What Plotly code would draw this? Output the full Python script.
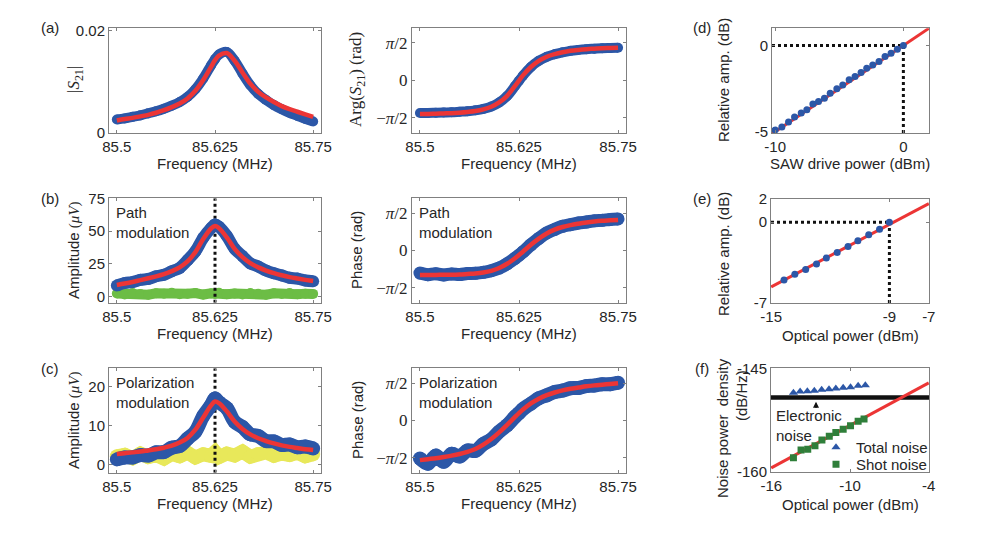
import plotly.graph_objects as go

W, H = 981, 533
OX, OY = 8, 8  # page body margin of the html file
SANS = "Liberation Sans, Arial, sans-serif"
SERIF = "Liberation Serif, DejaVu Serif, serif"
TXT = "#262626"
AXIS = "#808080"
BLUE = "#2c57a7"
RED = "#ec3535"
GREEN_BG = "#6cbd45"
YELLOW_BG = "#e8e85a"
SHOT_GREEN = "#2f7f3a"

# ---- data -------------------------------------------------------------
freq = [85.50, 85.51, 85.52, 85.53, 85.54, 85.55, 85.56, 85.57, 85.58, 85.59,
        85.60, 85.61, 85.62, 85.625, 85.63, 85.64, 85.65, 85.66, 85.67, 85.68,
        85.69, 85.70, 85.71, 85.72, 85.73, 85.74, 85.75]
f_marker = 85.625

# (a) S21
s21_meas = [0.0026, 0.0028, 0.0031, 0.0034, 0.0038, 0.0042, 0.0047, 0.0053, 0.0060, 0.0070,
            0.0085, 0.0106, 0.0132, 0.0144, 0.0153, 0.0158, 0.0141, 0.0116, 0.0093, 0.0076,
            0.0064, 0.0054, 0.0046, 0.0039, 0.0033, 0.0027, 0.0022]
s21_fit = [0.0024, 0.0027, 0.0029, 0.0032, 0.0035, 0.0039, 0.0044, 0.0050, 0.0057, 0.0067,
           0.0082, 0.0103, 0.0129, 0.0142, 0.0151, 0.0156, 0.0141, 0.0118, 0.0096, 0.0080,
           0.0069, 0.0060, 0.0052, 0.0046, 0.0041, 0.0036, 0.0031]
arg_meas = [-1.37, -1.37, -1.36, -1.35, -1.34, -1.32, -1.30, -1.26, -1.20, -1.10,
            -0.93, -0.66, -0.24, -0.02, 0.20, 0.56, 0.82, 0.99, 1.10, 1.18,
            1.24, 1.28, 1.31, 1.33, 1.35, 1.36, 1.37]
arg_fit = [-1.41, -1.41, -1.40, -1.39, -1.38, -1.36, -1.33, -1.29, -1.22, -1.11,
           -0.93, -0.65, -0.23, -0.01, 0.21, 0.56, 0.82, 0.99, 1.10, 1.18,
           1.24, 1.28, 1.31, 1.33, 1.35, 1.36, 1.37]

# (b) path modulation
path_amp = [8.6, 10.5, 11.2, 12.9, 13.6, 15.6, 16.8, 19.5, 22.0, 27.9,
            34.6, 44.9, 52.3, 55.0, 53.4, 46.4, 36.6, 31.0, 25.4, 23.1,
            20.0, 17.9, 16.3, 14.5, 13.9, 12.4, 11.9]
path_amp_fit = [9.0, 10.1, 11.3, 12.7, 14.1, 15.6, 17.3, 19.5, 22.4, 26.9,
                34.0, 44.0, 52.0, 54.0, 52.3, 45.3, 36.5, 30.2, 25.6, 22.4,
                20.0, 18.0, 16.4, 15.0, 13.9, 12.9, 12.0]
path_bg = [2.5, 1.8, 2.9, 2.1, 1.6, 2.7, 2.3, 3.0, 1.9, 2.4,
           2.8, 1.7, 2.6, 2.2, 3.1, 2.0, 2.5, 1.8, 2.9, 2.3,
           1.6, 2.7, 2.1, 2.8, 1.9, 2.4, 2.2]
path_phase = [-0.95, -1.02, -0.98, -1.03, -0.99, -1.01, -0.97, -0.96, -0.92, -0.85,
              -0.74, -0.56, -0.33, -0.20, -0.06, 0.24, 0.51, 0.74, 0.89, 1.02,
              1.09, 1.16, 1.20, 1.25, 1.27, 1.31, 1.33]
path_phase_fit = [-1.03, -1.03, -1.03, -1.02, -1.02, -1.01, -0.99, -0.97, -0.93, -0.86,
                  -0.74, -0.56, -0.33, -0.19, -0.05, 0.24, 0.50, 0.72, 0.88, 0.99,
                  1.07, 1.13, 1.18, 1.22, 1.25, 1.27, 1.29]

# (c) polarization modulation
pol_amp = [1.4, 1.9, 1.9, 2.5, 2.4, 3.2, 3.3, 4.4, 4.8, 6.7,
           8.5, 12.5, 15.3, 17.0, 16.0, 14.5, 11.0, 9.7, 7.8, 7.4,
           6.1, 6.0, 5.1, 5.2, 4.5, 4.7, 4.2]
pol_amp_fit = [2.8, 3.0, 3.2, 3.4, 3.7, 4.0, 4.4, 4.9, 5.7, 6.9,
               9.0, 12.1, 15.2, 16.2, 15.8, 13.7, 11.1, 9.2, 7.8, 6.8,
               6.1, 5.5, 5.0, 4.6, 4.3, 4.0, 3.8]
pol_bg = [2.2, 2.6, 1.7, 2.9, 2.0, 2.5, 1.6, 2.8, 2.2, 3.1,
          1.9, 2.7, 2.3, 3.3, 2.0, 2.9, 2.4, 3.4, 2.1, 2.8,
          3.2, 2.3, 2.9, 2.5, 3.1, 2.2, 2.7]
pol_phase = [-1.60, -1.82, -1.48, -1.74, -1.40, -1.52, -1.26, -1.28, -0.99, -0.80,
             -0.47, -0.20, 0.16, 0.31, 0.48, 0.71, 0.94, 1.06, 1.20, 1.26,
             1.36, 1.37, 1.45, 1.47, 1.53, 1.53, 1.59]
pol_phase_fit = [-1.67, -1.63, -1.59, -1.54, -1.48, -1.41, -1.32, -1.20, -1.02, -0.78,
                 -0.50, -0.18, 0.15, 0.31, 0.46, 0.72, 0.92, 1.07, 1.18, 1.27,
                 1.34, 1.39, 1.44, 1.48, 1.51, 1.54, 1.57]

# (d) SAW drive power sweep
saw_power = [-10.0, -9.48, -8.96, -8.49, -7.97, -7.53, -7.06, -6.62, -6.16, -5.71, -5.19,
             -4.73, -4.23, -3.77, -3.30, -2.86, -2.39, -1.90, -1.43, -0.96, -0.47, 0.0]
saw_rel_amp = [-4.87, -4.71, -4.42, -4.13, -3.90, -3.71, -3.38, -3.23, -3.04, -2.75, -2.50,
               -2.27, -1.98, -1.79, -1.56, -1.31, -1.12, -0.92, -0.63, -0.44, -0.21, 0.0]
saw_fit_x = [-10.25, 2.0]
saw_fit_y = [-5.1, 1.0]
saw_ref = 0.0

# (e) optical power sweep
opt_power = [-14.35, -13.8, -13.25, -12.7, -12.2, -11.65, -11.1, -10.6, -10.05, -9.5, -9.0]
opt_rel_amp = [-5.01, -4.53, -4.10, -3.62, -3.11, -2.62, -2.11, -1.60, -1.08, -0.60, 0.0]
opt_fit_x = [-15.0, -7.0]
opt_fit_y = [-5.62, 1.62]
opt_ref = -9.0

# (f) noise
total_power = [-14.31, -13.8, -13.25, -12.72, -12.16, -11.6, -11.08, -10.52, -9.96, -9.38, -8.83]
total_noise = [-148.53, -148.34, -148.29, -148.24, -148.10, -148.0, -147.9, -147.8, -147.71, -147.52, -147.42]
shot_power = [-14.31, -13.73, -13.22, -12.67, -12.14, -11.58, -11.08, -10.52, -9.96, -9.38, -8.93]
shot_noise = [-157.97, -156.85, -156.71, -156.23, -155.40, -154.82, -154.29, -153.81, -153.32, -152.65, -152.35]
shot_fit_x = [-16.0, -4.0]
shot_fit_y = [-159.43, -147.09]
electronic_noise = -149.2


def px(p):
    return (p - OX) / W


def py(p):
    return 1 - (p - OY) / H


# plot boxes in screen pixels: left, right, top, bottom
boxes = {
    1: (109, 321, 28, 132.7),
    2: (412, 626, 28, 132.7),
    3: (109, 321, 198.3, 302.7),
    4: (412, 626, 198.3, 302.7),
    5: (109, 321, 368.3, 472.7),
    6: (412, 626, 368.3, 472.7),
    7: (772, 929, 28.3, 133),
    8: (771, 929, 199, 303),
    9: (771, 929, 368.3, 472),
}

F_RANGE = [85.49, 85.76]
F_TICKS = [85.5, 85.625, 85.75]
PH_RANGE = [-2.2, 2.2]
PH_TICKS = [-1.5708, 0, 1.5708]
PH_TEXT = ["\u2212<i>\u03c0</i>/2", "0", "<i>\u03c0</i>/2"]

axes_spec = {
    1: dict(xr=F_RANGE, xt=F_TICKS, yr=[0, 0.0205], yt=[0, 0.02], ytxt=["0", "0.02"]),
    2: dict(xr=F_RANGE, xt=F_TICKS, yr=PH_RANGE, yt=PH_TICKS, ytxt=PH_TEXT, serif=True),
    3: dict(xr=F_RANGE, xt=F_TICKS, yr=[-4.5, 75.01], yt=[0, 25, 50, 75]),
    4: dict(xr=F_RANGE, xt=F_TICKS, yr=PH_RANGE, yt=PH_TICKS, ytxt=PH_TEXT, serif=True),
    5: dict(xr=F_RANGE, xt=F_TICKS, yr=[-2, 24.7], yt=[0, 10, 20]),
    6: dict(xr=F_RANGE, xt=F_TICKS, yr=PH_RANGE, yt=PH_TICKS, ytxt=PH_TEXT, serif=True),
    7: dict(xr=[-10.25, 2.0], xt=[-10, 0], yr=[-5.05, 1.0], yt=[-5, 0]),
    8: dict(xr=[-15.01, -6.99], xt=[-15, -9, -7], yr=[-7.02, 2.02], yt=[-7, 0, 2]),
    9: dict(xr=[-16.02, -3.98], xt=[-16, -10, -4], yr=[-160.03, -144.97], yt=[-160, -145]),
}

fig = go.Figure()

for n, (l, r, t, b) in boxes.items():
    sp = axes_spec[n]
    common = dict(showline=True, linecolor=AXIS, linewidth=1, mirror="ticks",
                  ticks="inside", ticklen=3, tickcolor=AXIS, showgrid=False,
                  zeroline=False, automargin=False,
                  tickfont=dict(family=SANS, size=15, color=TXT))
    xa = dict(common, domain=[px(l), px(r)], anchor=f"y{n}", range=sp["xr"],
              tickmode="array", tickvals=sp["xt"], ticktext=[f"{v:g}" for v in sp["xt"]])
    ya = dict(common, domain=[py(b), py(t)], anchor=f"x{n}", range=sp["yr"],
              tickmode="array", tickvals=sp["yt"],
              ticktext=sp.get("ytxt", [f"{v:g}" for v in sp["yt"]]))
    if sp.get("serif"):
        ya["tickfont"] = dict(family=SERIF, size=17, color=TXT)
    key = "" if n == 1 else str(n)
    fig.update_layout(**{f"xaxis{key}": xa, f"yaxis{key}": ya})


def ax(n):
    return dict(xaxis=f"x{n}", yaxis=f"y{n}")


def band(n, x, y, color, width, shape="spline"):
    fig.add_trace(go.Scatter(x=x, y=y, mode="lines+markers", showlegend=False,
                             line=dict(color=color, width=width, shape=shape),
                             marker=dict(color=color, size=width), hoverinfo="skip", **ax(n)))


def fit(n, x, y, width=4.5, color=RED, shape="spline", dash=None):
    fig.add_trace(go.Scatter(x=x, y=y, mode="lines", showlegend=False,
                             line=dict(color=color, width=width, shape=shape, dash=dash),
                             hoverinfo="skip", **ax(n)))


def dotted(n, x, y):
    fit(n, x, y, width=3, color="#111111", shape="linear", dash="dot")


# (a)
band(1, freq, s21_meas, BLUE, 10)
fit(1, freq, s21_fit)
band(2, freq, arg_meas, BLUE, 10)
fit(2, freq, arg_fit)

# (b)
band(3, freq, path_bg, GREEN_BG, 10, shape="linear")
dotted(3, [f_marker, f_marker], axes_spec[3]["yr"])
band(3, freq, path_amp, BLUE, 12)
fit(3, freq, path_amp_fit)
band(4, freq, path_phase, BLUE, 13)
fit(4, freq, path_phase_fit)

# (c)
band(5, freq, pol_bg, YELLOW_BG, 14, shape="linear")
dotted(5, [f_marker, f_marker], axes_spec[5]["yr"])
band(5, freq, pol_amp, BLUE, 14)
fit(5, freq, pol_amp_fit)
band(6, freq, pol_phase, BLUE, 14)
fit(6, freq, pol_phase_fit)

# (d)
dotted(7, [axes_spec[7]["xr"][0], saw_ref], [0, 0])
dotted(7, [saw_ref, saw_ref], [axes_spec[7]["yr"][0], 0])
fit(7, saw_fit_x, saw_fit_y, width=3, shape="linear")
fig.add_trace(go.Scatter(x=saw_power, y=saw_rel_amp, mode="markers", showlegend=False,
                         marker=dict(color=BLUE, size=7), **ax(7)))

# (e)
dotted(8, [axes_spec[8]["xr"][0], opt_ref], [0, 0])
dotted(8, [opt_ref, opt_ref], [axes_spec[8]["yr"][0], 0])
fit(8, opt_fit_x, opt_fit_y, width=3, shape="linear")
fig.add_trace(go.Scatter(x=opt_power, y=opt_rel_amp, mode="markers", showlegend=False,
                         marker=dict(color=BLUE, size=7), **ax(8)))

# (f)
fit(9, axes_spec[9]["xr"], [electronic_noise, electronic_noise], width=4.5,
    color="#111111", shape="linear")
fit(9, shot_fit_x, shot_fit_y, width=3, shape="linear")
fig.add_trace(go.Scatter(x=total_power, y=total_noise, mode="markers", name="Total noise",
                         legend="legend",
                         marker=dict(color=BLUE, size=8, symbol="triangle-up"), **ax(9)))
fig.add_trace(go.Scatter(x=shot_power, y=shot_noise, mode="markers", name="Shot noise",
                         legend="legend2",
                         marker=dict(color=SHOT_GREEN, size=7, symbol="square"), **ax(9)))
fig.add_annotation(x=-12.59, y=-149.84, ax=-12.59, ay=-150.95, xref="x9", yref="y9",
                   axref="x9", ayref="y9", text="", showarrow=True, arrowhead=2,
                   arrowsize=1, arrowwidth=1.2, arrowcolor="#111111", standoff=0)


def label(text, x, y, size=15, angle=0, family=SANS, xanchor="center", yanchor="middle",
          align="center"):
    fig.add_annotation(text=text, x=px(x), y=py(y), xref="paper", yref="paper",
                       showarrow=False, textangle=angle, xanchor=xanchor, yanchor=yanchor,
                       align=align, font=dict(family=family, size=size, color=TXT))


# axis titles
for cx in (215, 519):
    for cy in (163, 333, 503):
        label("Frequency (MHz)", cx, cy)
label("|<i>S</i><sub>21</sub>|", 75, 80, size=17, angle=-90, family=SERIF)
label("Arg(<i>S</i><sub>21</sub>) (rad)", 357, 80, size=17, angle=-90, family=SERIF)
amp_title = ("Amplitude <span style='font-family:Liberation Serif'>(<i>\u03bcV</i>)</span>")
label(amp_title, 74, 250, angle=-90)
label(amp_title, 74, 420, angle=-90)
label("Phase (rad)", 357, 250, angle=-90)
label("Phase (rad)", 357, 420, angle=-90)
label("Relative amp. (dB)", 723, 80, angle=-90)
label("Relative amp. (dB)", 723, 254, angle=-90)
label("Noise power  density", 722, 428, angle=-90)
label("(dB/Hz)", 741, 396, angle=-90)
label("SAW drive power (dBm)", 850, 163)
label("Optical power (dBm)", 850, 335)
label("Optical power (dBm)", 850, 504)

# in-panel notes
label("Path<br>modulation", 114, 202, xanchor="left", yanchor="top", align="left")
label("Path<br>modulation", 417, 202, xanchor="left", yanchor="top", align="left")
label("Polarization<br>modulation", 114, 372, xanchor="left", yanchor="top", align="left")
label("Polarization<br>modulation", 417, 372, xanchor="left", yanchor="top", align="left")
label("Electronic<br>noise", 774, 405, xanchor="left", yanchor="top", align="left")

# panel letters
for txt, x, y in [("(a)", 50, 28), ("(b)", 50, 198), ("(c)", 50, 368),
                  ("(d)", 702, 27), ("(e)", 702, 198), ("(f)", 702, 368)]:
    label(txt, x, y)

legend_style = dict(xanchor="left", yanchor="top", bgcolor="rgba(0,0,0,0)",
                    font=dict(family=SANS, size=15, color=TXT), itemwidth=30)
fig.update_layout(
    width=W, height=H, margin=dict(l=0, r=0, t=0, b=0, autoexpand=False),
    paper_bgcolor="white", plot_bgcolor="white",
    font=dict(family=SANS, size=15, color=TXT),
    legend=dict(legend_style, x=px(816), y=py(431)),
    legend2=dict(legend_style, x=px(816), y=py(448)),
)

fig.write_html("out.html")
